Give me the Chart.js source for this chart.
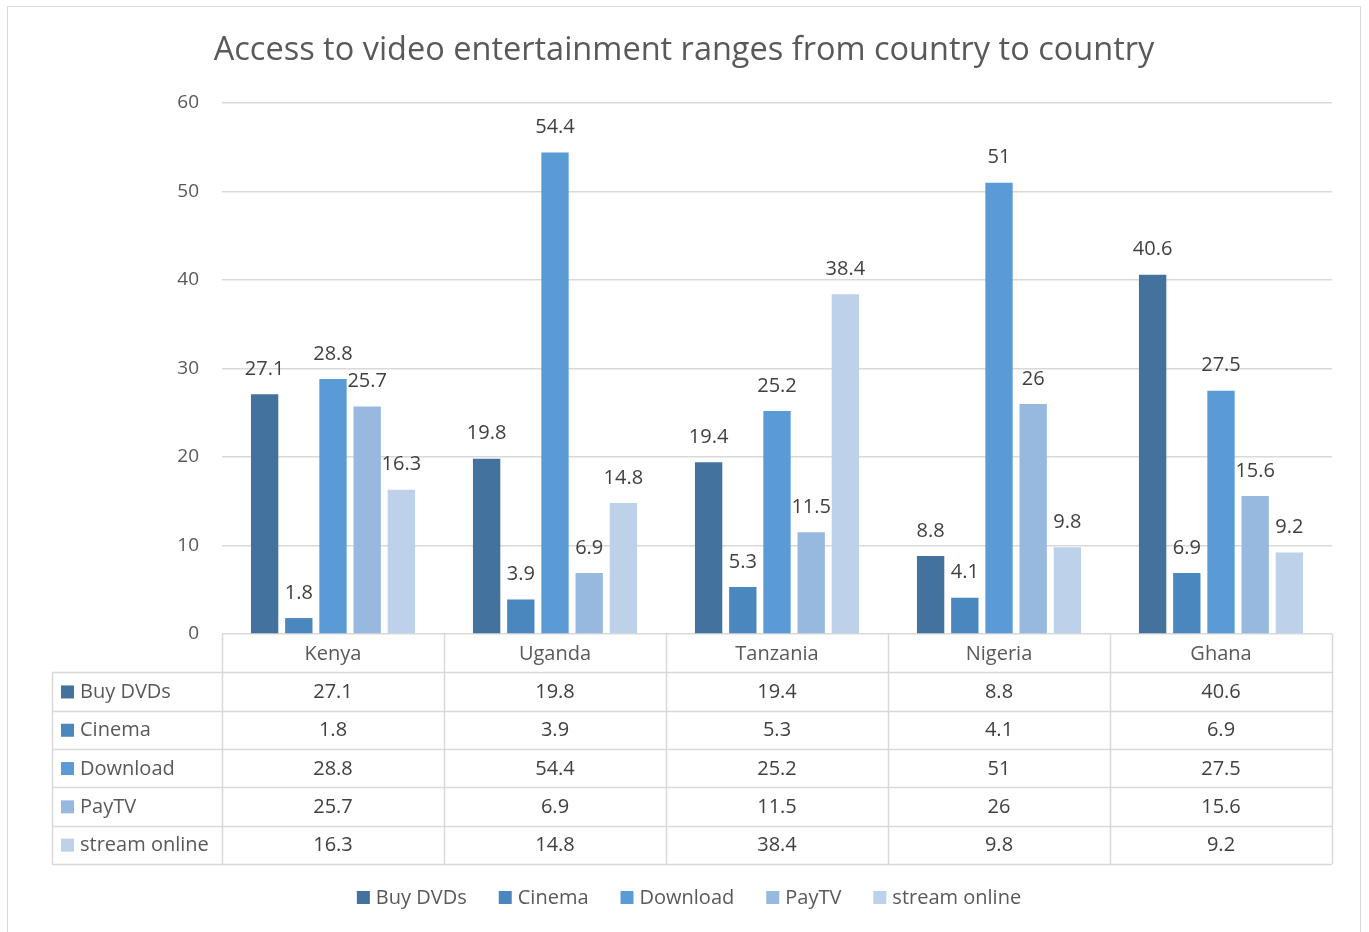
<!DOCTYPE html>
<html>
<head>
<meta charset="utf-8">
<script src="https://cdn.jsdelivr.net/npm/chart.js@4.4.1/dist/chart.umd.min.js"></script>
<style>
  html, body { margin:0; padding:0; background:#fff; overflow:hidden; }
  #chart { display:block; }
</style>
</head>
<body>
<canvas id="chart" width="1369" height="932"></canvas>
<script>
const titleText    = 'Access to video entertainment ranges from country to country';
const categories   = ['Kenya', 'Uganda', 'Tanzania', 'Nigeria', 'Ghana'];
const seriesNames  = ['Buy DVDs', 'Cinema', 'Download', 'PayTV', 'stream online'];
const buyDvds      = [27.1, 19.8, 19.4, 8.8, 40.6];
const cinema       = [1.8, 3.9, 5.3, 4.1, 6.9];
const download     = [28.8, 54.4, 25.2, 51, 27.5];
const payTv        = [25.7, 6.9, 11.5, 26, 15.6];
const streamOnline = [16.3, 14.8, 38.4, 9.8, 9.2];
const yTicks       = [0, 10, 20, 30, 40, 50, 60];

const seriesColors = ['#43729E', '#4A87BF', '#5B9BD5', '#98B9DF', '#BDD1EB'];
const FONT = '"Open Sans", "Noto Sans", sans-serif';
const GRID = '#D9D9D9';

const seriesData = [buyDvds, cinema, download, payTv, streamOnline];

// labels above bars, the data table under the plot, legend and frame
const excelExtras = {
    id: 'excelExtras',
    afterDatasetsDraw(chart) {
        const ctx = chart.ctx;
        ctx.save();
        ctx.font = '20px ' + FONT;
        ctx.fillStyle = '#404040';
        ctx.textAlign = 'center';
        ctx.textBaseline = 'middle';
        chart.data.datasets.forEach((ds, di) => {
            chart.getDatasetMeta(di).data.forEach((bar, i) => {
                ctx.fillText(String(ds.data[i]), bar.x, bar.y - 25);
            });
        });
        ctx.restore();
    },
    afterDraw(chart) {
        const ctx = chart.ctx, a = chart.chartArea;
        const n = categories.length, w = (a.right - a.left) / n;
        const rowH = 38.3, top = a.bottom, tableLeft = 52;
        const bottom = top + rowH * (seriesNames.length + 1);
        ctx.save();

        // frame
        ctx.strokeStyle = GRID; ctx.lineWidth = 1;
        ctx.strokeRect(7.5, 6.5, 1353, 940);

        // title
        ctx.fillStyle = '#595959';
        ctx.font = '32.5px ' + FONT;
        ctx.textAlign = 'center'; ctx.textBaseline = 'middle';
        ctx.fillText(titleText, 684, 51);

        // table grid
        ctx.strokeStyle = GRID; ctx.lineWidth = 1.5;
        ctx.beginPath();
        for (let r = 1; r <= seriesNames.length + 1; r++) {
            const y = Math.round(top + r * rowH) + 0.5;
            ctx.moveTo(tableLeft, y); ctx.lineTo(a.right, y);
        }
        for (let c = 0; c <= n; c++) {
            const x = Math.round(a.left + c * w) + 0.5;
            ctx.moveTo(x, top); ctx.lineTo(x, bottom);
        }
        ctx.moveTo(tableLeft + 0.5, top + rowH); ctx.lineTo(tableLeft + 0.5, bottom);
        ctx.stroke();

        ctx.font = '20px ' + FONT;
        ctx.textBaseline = 'middle';
        ctx.textAlign = 'center';
        ctx.fillStyle = '#595959';
        categories.forEach((c, i) => ctx.fillText(c, a.left + (i + 0.5) * w, top + rowH / 2 + 1));
        seriesNames.forEach((s, r) => {
            const cy = top + (r + 1.5) * rowH + 1;
            ctx.fillStyle = seriesColors[r];
            ctx.fillRect(61, cy - 7, 13, 13);
            ctx.fillStyle = '#595959';
            ctx.textAlign = 'left';
            ctx.fillText(s, 80, cy);
            ctx.fillStyle = '#404040';
            ctx.textAlign = 'center';
            seriesData[r].forEach((v, i) => ctx.fillText(String(v), a.left + (i + 0.5) * w, cy));
        });

        // legend
        const gap = 32, box = 13, boxGap = 6, ly = 898;
        const widths = seriesNames.map(s => box + boxGap + ctx.measureText(s).width);
        const total = widths.reduce((p, q) => p + q, 0) + gap * (widths.length - 1);
        let x = 689 - total / 2;
        ctx.textAlign = 'left';
        seriesNames.forEach((s, i) => {
            ctx.fillStyle = seriesColors[i];
            ctx.fillRect(x, ly - 7, box, box);
            ctx.fillStyle = '#595959';
            ctx.fillText(s, x + box + boxGap, ly);
            x += widths[i] + gap;
        });
        ctx.restore();
    }
};

new Chart(document.getElementById('chart'), {
    type: 'bar',
    data: {
        labels: categories,
        datasets: seriesNames.map((name, i) => ({
            label: name,
            data: seriesData[i],
            backgroundColor: seriesColors[i],
            borderWidth: 0,
            categoryPercentage: 0.77,
            barPercentage: 0.8
        }))
    },
    options: {
        responsive: false,
        animation: false,
        devicePixelRatio: 1,
        layout: { padding: { left: 0, right: 37, top: 103, bottom: 298 } },
        plugins: { legend: { display: false }, title: { display: false }, tooltip: { enabled: false } },
        scales: {
            x: { display: false },
            y: {
                min: 0, max: 60,
                afterBuildTicks: axis => { axis.ticks = yTicks.map(v => ({ value: v })); },
                afterFit: axis => { axis.width = 222; },
                border: { display: false },
                grid: { color: GRID, lineWidth: 1.5, drawTicks: false },
                ticks: { color: '#595959', padding: 23, font: { family: FONT, size: 19 } }
            }
        }
    },
    plugins: [excelExtras]
});
</script>
</body>
</html>
